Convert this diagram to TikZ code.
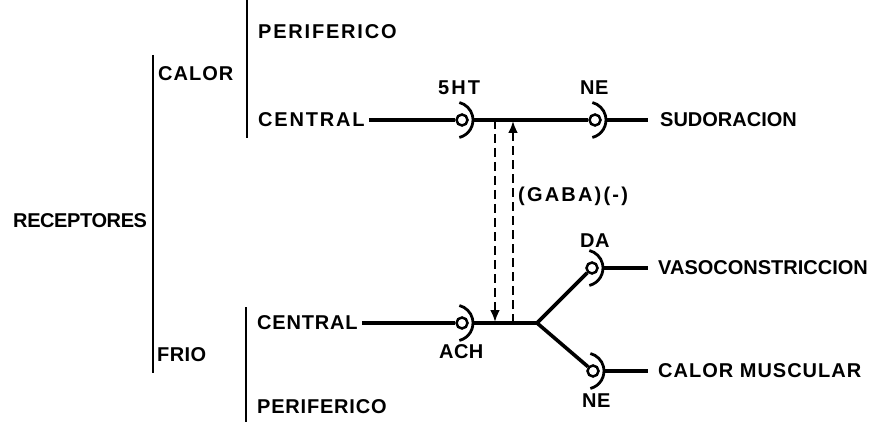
\documentclass[tikz,border=0pt]{standalone}
\usepackage{fontspec}
\setmainfont{Liberation Sans}
\usetikzlibrary{arrows.meta}
% letter-spaced label text
\newcommand{\spaced}[2]{{\addfontfeatures{LetterSpace=#1}#2}}
% a synapse: small circle with a curved cleft to its right
\newcommand{\synapse}[2]{%
  \node[syn] (#1) at #2 {};
  \draw[cleft] ([xshift=-7pt]#1.center) ++(76:18) arc[start angle=76,end angle=-76,radius=18];
  \coordinate (#1-out) at ([xshift=12pt]#1.center);}
\begin{document}
\begin{tikzpicture}[x=1pt,y=-1pt,
  lbl/.style={font=\bfseries\fontsize{20}{22}\selectfont, inner sep=0pt, anchor=west},
  wire/.style={line width=3.6pt, line join=round},
  bar/.style={line width=2.8pt},
  syn/.style={circle, draw, line width=2.5pt, minimum size=11pt, inner sep=0pt, fill=white},
  cleft/.style={line width=2.8pt},
  inhib/.style={line width=2.8pt, dash pattern=on 9pt off 5pt},
  tip/.style={-{Latex[length=12pt,width=10pt]}}
]
\useasboundingbox (0,0) rectangle (875,422);

% brackets
\draw[bar] (153,55) -- (153,373);
\draw[bar] (247,0) -- (247,138);
\draw[bar] (246,307) -- (246,422);

% labels
\node[lbl] (recep) at (13,221)  {\spaced{-2}{RECEPTORES}};
\node[lbl] (calor) at (158,74)  {\spaced{5}{CALOR}};
\node[lbl] (frio)  at (157,355) {\spaced{2}{FRIO}};
\node[lbl] (per1)  at (258,32)  {\spaced{9}{PERIFERICO}};
\node[lbl] (cen1)  at (258,120) {\spaced{9}{CENTRAL}};
\node[lbl] (cen2)  at (257,323) {\spaced{4}{CENTRAL}};
\node[lbl] (per2)  at (257,407) {\spaced{4}{PERIFERICO}};
\node[lbl] (l5ht)  at (438,88)  {\spaced{10}{5HT}};
\node[lbl] (lne1)  at (580,88)  {\spaced{2}{NE}};
\node[lbl] (lach)  at (439,352) {\spaced{2}{ACH}};
\node[lbl] (lda)   at (580,241) {\spaced{2}{DA}};
\node[lbl] (lne2)  at (582,401) {\spaced{2}{NE}};
\node[lbl] (gaba)  at (518,196) {\spaced{11}{(GABA)(-)}};
\node[lbl] (sudo)  at (660,120) {\spaced{0}{SUDORACION}};
\node[lbl] (vaso)  at (658,268) {\spaced{0}{VASOCONSTRICCION}};
\node[lbl] (calm)  at (658,371) {\spaced{5}{CALOR MUSCULAR}};

% synapses
\synapse{s5ht}{(462,120)}
\synapse{sne1}{(595,120)}
\synapse{sach}{(462,323)}
\synapse{sda}{(592,268)}
\synapse{sne2}{(593,371)}

% upper pathway
\draw[wire] ([xshift=4pt]cen1.east) -- (s5ht);
\draw[wire] (s5ht-out) -- (sne1);
\draw[wire] (sne1-out) -- ([xshift=-12pt]sudo.west);

% lower pathway with fork
\coordinate (fork) at (537,323);
\draw[wire] ([xshift=4pt]cen2.east) -- (sach);
\draw[wire] (sach-out) -- (fork) -- (sda);
\draw[wire] (fork) -- (sne2);
\draw[wire] (sda-out) -- ([xshift=-10pt]vaso.west);
\draw[wire] (sne2-out) -- ([xshift=-10pt]calm.west);

% GABA links between the two pathways
\coordinate (gd-top) at (495,120);
\coordinate (gd-bot) at (495,322);
\coordinate (gu-bot) at (513,323);
\coordinate (gu-top) at (513,121);
\draw[inhib, tip] (gd-top) -- (gd-bot);
\draw[inhib, tip] (gu-bot) -- (gu-top);
\end{tikzpicture}
\end{document}
